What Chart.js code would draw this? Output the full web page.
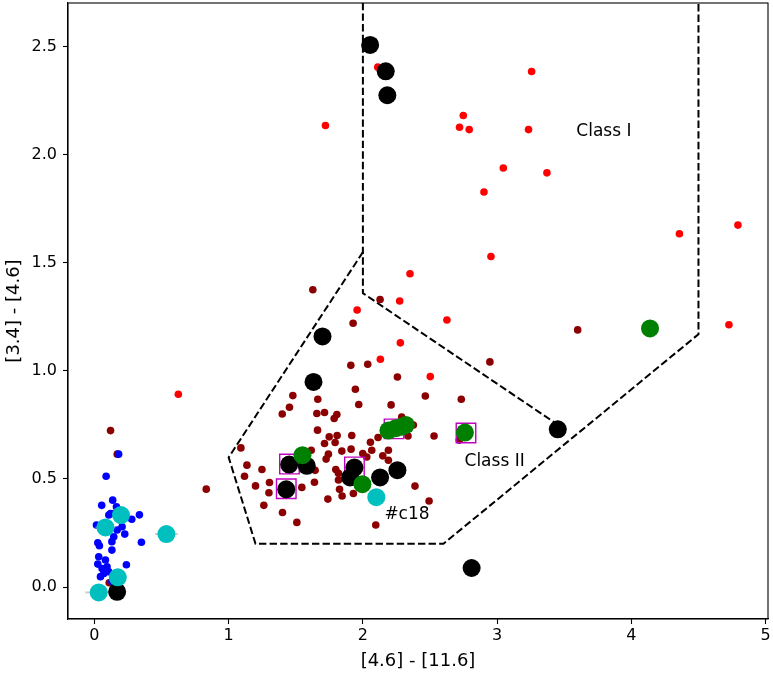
<!DOCTYPE html>
<html>
<head>
<meta charset="utf-8">
<script src="https://cdn.jsdelivr.net/npm/chart.js@4/dist/chart.umd.min.js"></script>
<style>
  html, body { margin: 0; padding: 0; background: #fff; }
  canvas { display: block; }
</style>
</head>
<body>
<canvas id="chart" width="773" height="675"></canvas>
<script>
// tick labels
const xTicks = [0, 1, 2, 3, 4, 5];
const yTicks = [0, 0.5, 1.0, 1.5, 2.0, 2.5];

// small blue dots
const blueX = [0.18, 0.087, 0.136, 0.054, 0.164, 0.335, 0.107, 0.12, 0.156, 0.278, 0.193, 0.206, 0.169, 0.015, 0.226, 0.144, 0.35, 0.025, 0.037, 0.13, 0.13, 0.032, 0.082, 0.025, 0.238, 0.057, 0.094, 0.07, 0.107, 0.045, 0.13];
const blueY = [0.615, 0.513, 0.402, 0.378, 0.371, 0.334, 0.333, 0.34, 0.341, 0.314, 0.31, 0.279, 0.264, 0.287, 0.245, 0.233, 0.207, 0.205, 0.191, 0.21, 0.171, 0.14, 0.125, 0.106, 0.103, 0.086, 0.094, 0.063, 0.071, 0.048, 0.025];

// small dark red dots
const darkX = [0.12, 0.17, 0.11, 0.833, 1.627, 2.128, 1.927, 1.91, 2.036, 2.257, 1.944, 1.969, 2.21, 1.478, 1.453, 1.399, 1.664, 1.657, 1.714, 1.806, 1.786, 1.662, 1.749, 1.808, 1.917, 1.714, 1.793, 2.056, 2.113, 2.19, 2.066, 1.999, 1.912, 1.843, 1.743, 1.726, 2.148, 2.19, 2.029, 1.615, 1.091, 1.136, 1.248, 1.118, 1.2, 1.304, 1.3, 1.262, 1.401, 1.508, 1.545, 1.639, 1.644, 1.739, 1.798, 1.818, 1.818, 1.826, 1.845, 1.929, 2.096, 2.388, 2.465, 2.733, 2.289, 2.376, 2.336, 2.53, 2.493, 2.946, 3.6, 2.718];
const darkY = [0.724, 0.615, 0.02, 0.453, 1.376, 1.331, 1.221, 1.026, 1.031, 0.972, 0.915, 0.845, 0.843, 0.886, 0.832, 0.801, 0.869, 0.803, 0.808, 0.798, 0.78, 0.726, 0.695, 0.701, 0.701, 0.664, 0.669, 0.67, 0.692, 0.633, 0.633, 0.618, 0.638, 0.629, 0.615, 0.592, 0.607, 0.587, 0.602, 0.633, 0.644, 0.564, 0.544, 0.513, 0.468, 0.484, 0.436, 0.378, 0.345, 0.299, 0.461, 0.485, 0.54, 0.407, 0.544, 0.526, 0.495, 0.452, 0.421, 0.433, 0.287, 0.467, 0.884, 0.869, 0.787, 0.75, 0.699, 0.699, 0.398, 1.042, 1.19, 0.68];

// small red dots
const redX = [1.721, 2.111, 3.257, 2.748, 2.72, 2.792, 3.234, 3.046, 3.371, 2.902, 4.358, 4.794, 4.727, 0.625, 2.954, 2.351, 2.626, 1.957, 2.274, 2.279, 2.13, 2.502];
const redY = [2.136, 2.406, 2.386, 2.182, 2.128, 2.117, 2.117, 1.939, 1.917, 1.828, 1.635, 1.675, 1.214, 0.892, 1.53, 1.45, 1.236, 1.282, 1.324, 1.13, 1.054, 0.974];

// large black dots
const blackX = [2.054, 2.17, 2.182, 1.699, 1.632, 1.451, 1.582, 1.429, 1.937, 1.905, 2.128, 2.257, 3.452, 2.81, 0.169];
const blackY = [2.509, 2.387, 2.276, 1.16, 0.949, 0.567, 0.561, 0.452, 0.553, 0.507, 0.507, 0.541, 0.73, 0.088, -0.022];

// large green dots
const greenX = [4.139, 1.55, 1.996, 2.19, 2.245, 2.29, 2.32, 2.76];
const greenY = [1.197, 0.61, 0.476, 0.724, 0.735, 0.742, 0.75, 0.715];

// large cyan dots and their x errors
const cyanX = [0.198, 0.082, 0.536, 0.174, 0.032, 2.10];
const cyanY = [0.333, 0.276, 0.245, 0.045, -0.025, 0.416];
const cyanXErr = [0.05, 0.075, 0.085, 0.05, 0.1, 0.05];

// magenta open squares
const squareX = [1.453, 1.429, 1.937, 2.232, 2.768];
const squareY = [0.569, 0.455, 0.556, 0.732, 0.713];

// dashed class boundaries
const classIX = [2.0, 2.0, 3.45];
const classIY = [2.9, 1.36, 0.752];
const classIIX = [2.0, 1.0, 1.2, 2.6, 4.5, 4.5];
const classIIY = [1.55, 0.6, 0.2, 0.2, 1.17, 2.9];

// text labels
const labelText = ['Class I', 'Class II', '#c18'];
const labelX = [3.59, 2.757, 2.16];
const labelY = [2.11, 0.579, 0.334];

const FONT = 'DejaVu Sans';

function pts(xs, ys) {
    return xs.map((x, i) => ({ x: x, y: ys[i] }));
}

function dots(data, color, radius, order) {
    return {
        data: data,
        backgroundColor: color,
        borderWidth: 0,
        pointRadius: radius,
        pointHoverRadius: radius,
        order: order
    };
}

function dashed(data) {
    return {
        data: data,
        showLine: true,
        borderColor: '#000',
        borderWidth: 2,
        borderDash: [7.4, 3.2],
        pointRadius: 0,
        fill: false,
        order: 100
    };
}

const datasets = [
    dashed(pts(classIX, classIY)),
    dashed(pts(classIIX, classIIY)),
    dots(pts(redX, redY), '#ff0000', 3.8, 90),
    dots(pts(darkX, darkY), '#8b0000', 3.8, 80),
    dots(pts(blueX, blueY), '#0000ff', 3.8, 70)
];

// error bars behind the cyan dots
cyanX.forEach((x, i) => {
    datasets.push({
        data: [{ x: x - cyanXErr[i], y: cyanY[i] }, { x: x + cyanXErr[i], y: cyanY[i] }],
        showLine: true,
        borderColor: 'rgba(170,170,170,0.6)',
        borderWidth: 2,
        pointRadius: 0,
        order: 60
    });
});

datasets.push({
    data: pts(squareX, squareY),
    pointStyle: 'rect',
    pointRadius: 13.8,
    pointHoverRadius: 13.8,
    backgroundColor: 'rgba(0,0,0,0)',
    borderColor: '#bf00bf',
    borderWidth: 1.4,
    order: 50
});
datasets.push(dots(pts(blackX, blackY), '#000000', 9, 40));
datasets.push(dots(pts(greenX, greenY), '#008000', 9, 30));
datasets.push(dots(pts(cyanX, cyanY), '#00bfbf', 9, 20));

// frame around the plot and the region labels
const extras = {
    id: 'extras',
    afterDraw(chart) {
        const ctx = chart.ctx;
        const a = chart.chartArea;
        const xs = chart.scales.x, ys = chart.scales.y;
        ctx.save();
        ctx.strokeStyle = '#000';
        ctx.lineWidth = 1.1;
        ctx.strokeRect(a.left, a.top, a.right - a.left, a.bottom - a.top);
        ctx.fillStyle = '#000';
        ctx.font = '17px "' + FONT + '"';
        ctx.textAlign = 'left';
        ctx.textBaseline = 'middle';
        labelText.forEach((t, i) => {
            ctx.fillText(t, xs.getPixelForValue(labelX[i]), ys.getPixelForValue(labelY[i]));
        });
        ctx.restore();
    }
};

new Chart(document.getElementById('chart'), {
    type: 'scatter',
    data: { datasets: datasets },
    options: {
        responsive: false,
        devicePixelRatio: 1,
        animation: false,
        layout: { autoPadding: false, padding: { left: 0, top: 3, right: 5, bottom: 0 } },
        plugins: { legend: { display: false }, tooltip: { enabled: false } },
        scales: {
            x: {
                type: 'linear',
                min: -0.197,
                max: 5.018,
                afterBuildTicks: s => { s.ticks = xTicks.map(v => ({ value: v })); },
                afterFit: s => { s.height = 56; s.paddingLeft = 0; s.paddingRight = 0; },
                grid: { drawOnChartArea: false, drawTicks: true, tickLength: 5, color: '#000', tickWidth: 1.1 },
                border: { display: true, color: '#000', width: 1.1 },
                ticks: { color: '#000', font: { family: FONT, size: 16 }, padding: 2, maxRotation: 0,
                    callback: v => String(v) },
                title: { display: true, text: '[4.6] - [11.6]', color: '#000',
                    font: { family: FONT, size: 18 }, padding: { top: 0, bottom: 3 } }
            },
            y: {
                type: 'linear',
                min: -0.148,
                max: 2.703,
                afterBuildTicks: s => { s.ticks = yTicks.map(v => ({ value: v })); },
                afterFit: s => { s.width = 68; s.paddingTop = 0; s.paddingBottom = 0; },
                grid: { drawOnChartArea: false, drawTicks: true, tickLength: 5, color: '#000', tickWidth: 1.1 },
                border: { display: true, color: '#000', width: 1.1 },
                ticks: { color: '#000', font: { family: FONT, size: 16 }, padding: 6,
                    callback: v => Number(v).toFixed(1) },
                title: { display: true, text: '[3.4] - [4.6]', color: '#000',
                    font: { family: FONT, size: 18 }, padding: { top: 4, bottom: 0 } }
            }
        }
    },
    plugins: [extras]
});
</script>
</body>
</html>
